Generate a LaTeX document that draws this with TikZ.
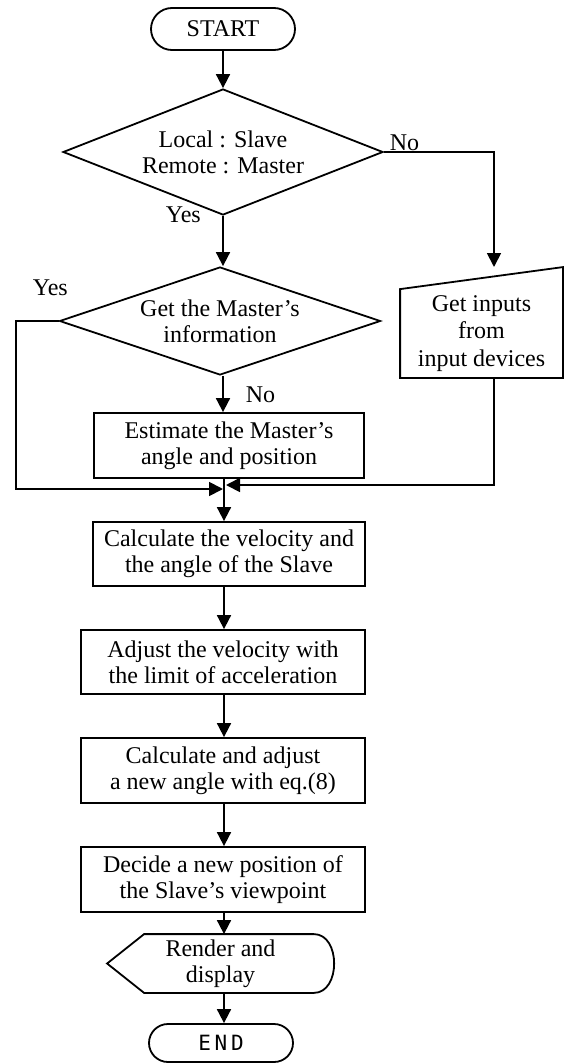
\documentclass[tikz,border=0pt]{standalone}
\usepackage{fontspec}
\setmainfont{Liberation Serif}
\newfontfamily\termfont[LetterSpace=18]{DejaVu Sans Mono}
\usepackage{tikz}
\usetikzlibrary{shapes, arrows.meta, positioning, calc}

\begin{document}
\begin{tikzpicture}[x=1pt, y=-1pt, line width=1.8pt,
        font=\fontsize{24}{26}\selectfont,
        box/.style={draw, inner sep=0pt, align=center, minimum height=64pt},
        decision/.style={draw, diamond, inner sep=0pt, align=center},
        term/.style={draw, rounded corners=20pt, inner sep=0pt, minimum width=144pt, minimum height=40pt},
        arr/.style={-{Triangle[length=14pt, width=14pt]}}]
        \useasboundingbox (0,0) rectangle (565,1063);

        % main column
        \node[term, minimum height=42pt, rounded corners=21pt] (start) at (223,29) {START};
        \node[decision, aspect=2.5, minimum width=320pt, minimum height=126pt] (local) at (223,152) {Local : Slave\\Remote : Master};
        \node[decision, aspect=3, minimum width=321pt, minimum height=108pt] (getm) at (220,321) {Get the Master's\\information};
        \node[box, minimum width=270pt, minimum height=65pt] (estm) at (229,445.5) {Estimate the Master's\\angle and position};
        \node[box, minimum width=272pt] (calcv) at (229,554) {Calculate the velocity and\\the angle of the Slave};
        \node[box, minimum width=284pt] (adjv) at (223,662) {Adjust the velocity with\\the limit of acceleration};
        \node[box, minimum width=284pt, minimum height=65pt] (calca) at (223,770.5) {Calculate and adjust\\a new angle with eq.(8)};
        \node[box, minimum width=284pt, minimum height=65pt] (newpos) at (223,879.5) {Decide a new position of\\the Slave's viewpoint};
        \node[inner sep=0pt, align=center, minimum width=225pt, minimum height=57pt] (disp) at (220.5,963.5) {Render and\\display};
        \node[term, font=\termfont\fontsize{21}{24}\selectfont, minimum height=38pt, rounded corners=19pt] (end) at (221,1043) {END};

        % manual input
        \node[inner sep=0pt, align=center, minimum width=161pt, minimum height=87pt,
            font=\fontsize{24}{27.5}\selectfont] (inp) at (481.5,333.5) {Get inputs\\from\\input devices};
        \draw (inp.south west) -- (inp.north west) -- ([yshift=22pt]inp.north east) -- (inp.south east) -- cycle;

        % display
        \draw (disp.west) -- ([xshift=37pt]disp.north west) -- ([xshift=-20pt]disp.north east)
            .. controls ([xshift=7pt]disp.north east) and ([xshift=7pt]disp.south east) .. ([xshift=-20pt]disp.south east)
            -- ([xshift=37pt]disp.south west) -- cycle;

        \coordinate (col) at (224,0);
        \coordinate (inpin) at (494,267);
        \coordinate (mergeL) at (223,489);
        \coordinate (mergeR) at (226,485);

        % connectors
        \draw[arr] (start.south) -- (local.north);
        \draw[arr] (local.south) -- (getm.north -| local.south);
        \draw[arr] (local.east) -| (inpin);
        \draw[arr] (getm.south -| local.south) -- (estm.north -| local.south);
        \draw[arr] (getm.west) -- ++(-43,0) |- (mergeL);
        \draw[arr] (inpin |- inp.south) |- (mergeR);
        \draw[arr] (estm.south -| col) -- (calcv.north -| col);
        \draw[arr] (calcv.south -| col) -- (adjv.north -| col);
        \draw[arr] (adjv.south -| col) -- (calca.north -| col);
        \draw[arr] (calca.south -| col) -- (newpos.north -| col);
        \draw[arr] (newpos.south -| col) -- (disp.north -| col);
        \draw[arr] (disp.south -| col) -- (end.north -| col);

        % branch labels
        \node[anchor=base west, inner sep=0pt] (yes1) at (165,222) {Yes};
        \node[anchor=base west, inner sep=0pt] (no1) at (389,150) {No};
        \node[anchor=base west, inner sep=0pt] (yes2) at (32,295) {Yes};
        \node[anchor=base west, inner sep=0pt] (no2) at (245,402) {No};

\end{tikzpicture}
\end{document}
